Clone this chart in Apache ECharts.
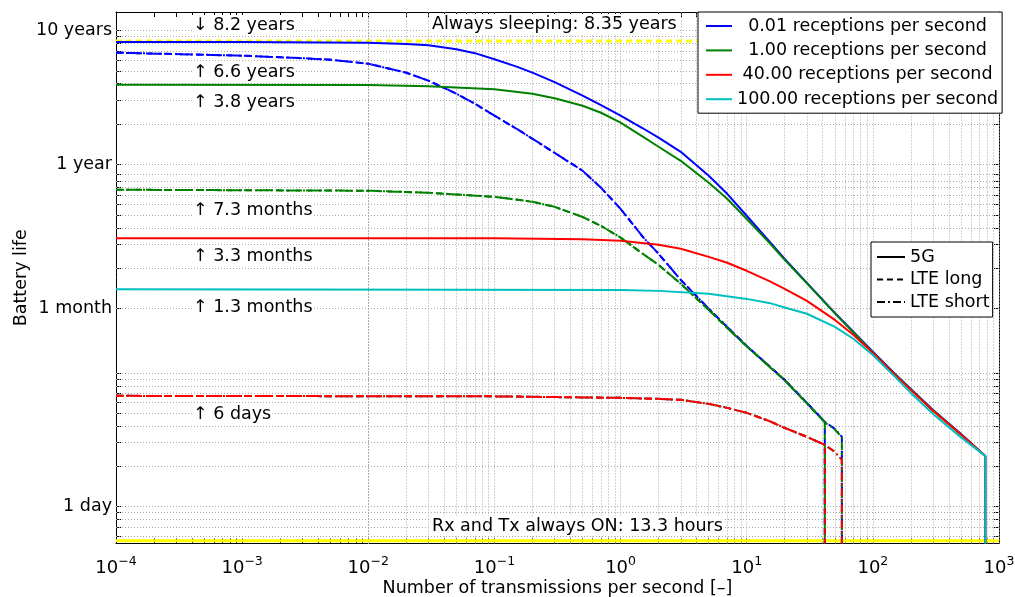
<!DOCTYPE html>
<html><head><meta charset="utf-8">
<script src="https://cdn.jsdelivr.net/npm/echarts@6/dist/echarts.min.js"></script>
<style>html,body{margin:0;padding:0;background:#fff}#c{width:1015px;height:597px}</style>
</head><body><div id="c"></div>
<script>
// ---------------- DATA ----------------
const rxRates = ['0.01', '1.00', '40.00', '100.00'];
const techNames = ['5G', 'LTE long', 'LTE short'];

// axis extents (x: transmissions per second, y: days)
const xMin = 1e-4, xMax = 1e3;
const yMin = 0.528, yMax = 5030;
const daysPerMonth = 30.44, daysPerYear = 365.25;

// tick labels
const xTickValues = [1e-4, 1e-3, 1e-2, 1e-1, 1, 10, 100, 1000];
const yTickValues = [1, 30.44, 365.25, 3652.5];
const yTickLabels = ['1 day', '1 month', '1 year', '10 years'];
// grid positions (in days / months / years)
const yGridDays = [0.6, 0.7, 0.8, 0.9, 1, 2, 3, 4, 5, 6, 7, 8, 9, 10];
const yGridMonths = [1, 2, 3, 4, 5, 6, 7, 8, 9, 10];
const yGridYears = [1, 2, 3, 4, 5, 6, 7, 8, 9, 10];

// reference levels (days)
const alwaysSleepingDays = 3049.8;   // 8.35 years
const alwaysOnDays = 0.554;          // 13.3 hours

// 5G curves (battery life in days)
const g5EndX = 778;
const g5BlueX = [1e-4, 1e-3, 0.01, 0.02, 0.03, 0.05, 0.07, 0.1, 0.15, 0.2, 0.3, 0.5, 0.7, 1, 1.5, 2, 3, 5, 7, 10, 15, 20, 30, 50, 70, 100, 150, 200, 300, 500, 778];
const g5BlueY = [2995, 2995, 2964, 2900, 2835, 2650, 2474, 2230, 1960, 1767, 1500, 1188, 1009, 842, 678, 576, 452, 299, 219, 150, 97.4, 71.4, 47.2, 28.1, 20.3, 14.4, 9.83, 7.59, 5.28, 3.49, 2.39];
const g5GreenX = [1e-4, 0.01, 0.03, 0.1, 0.2, 0.3, 0.5, 0.7, 1, 1.5, 2, 3, 5, 7, 10, 15, 20, 30, 50, 70, 100, 150, 200, 300, 500, 778];
const g5GreenY = [1437, 1429, 1400, 1329, 1230, 1138, 1000, 886, 746, 586, 493, 387, 265, 201, 142, 94.9, 70.2, 46.8, 27.9, 20.1, 14.2, 9.74, 7.52, 5.24, 3.46, 2.39];
const g5RedX = [1e-4, 0.1, 0.5, 1, 2, 3, 5, 7, 10, 15, 20, 30, 50, 70, 100, 150, 200, 300, 500, 778];
const g5RedY = [101.7, 101.6, 100, 97.4, 90.9, 84.9, 73.9, 66.7, 58.1, 48.9, 42.6, 34.6, 24.9, 19.3, 14.1, 9.66, 7.46, 5.19, 3.46, 2.39];
const g5CyanX = [1e-4, 1, 2, 5, 10, 15, 20, 30, 50, 70, 100, 150, 200, 300, 500, 778];
const g5CyanY = [42.2, 41.8, 41.1, 39.1, 35.8, 33.4, 30.9, 27.7, 22.1, 18.0, 13.6, 9.33, 7.08, 4.93, 3.29, 2.39];

// LTE curves (long and short DRX follow the same path; long stops at lteLongEndX, short at lteShortEndX)
const lteLongEndX = 41.6, lteShortEndX = 56.8;
const lteBlueX = [1e-4, 1e-3, 0.003, 0.005, 0.01, 0.02, 0.03, 0.05, 0.07, 0.1, 0.15, 0.2, 0.3, 0.5, 0.7, 1, 1.5, 2, 3, 5, 7, 10, 15, 20, 30, 41.6, 50, 56.8];
const lteBlueY = [2495, 2369, 2269, 2211, 2063, 1767, 1539, 1230, 1035, 842, 672, 566, 444, 326, 243, 169, 104.4, 77.9, 49.7, 30.2, 22.1, 15.9, 11.3, 8.86, 5.96, 4.30, 3.81, 3.32];
const lteGreenX = [1e-4, 0.01, 0.03, 0.1, 0.2, 0.3, 0.5, 0.7, 1, 1.5, 2, 3, 5, 7, 10, 15, 20, 30, 41.6, 50, 56.8];
const lteGreenY = [235, 231, 223, 208, 191, 175, 147, 126, 103, 77.9, 64.4, 46.4, 29.6, 21.7, 15.8, 11.2, 8.79, 5.91, 4.26, 3.77, 3.29];
const lteRedX = [1e-4, 0.1, 1, 2, 3, 5, 7, 10, 15, 20, 30, 41.6, 50, 56.8];
const lteRedY = [6.73, 6.67, 6.50, 6.39, 6.28, 5.86, 5.47, 5.02, 4.37, 3.87, 3.32, 2.89, 2.56, 2.23];
const lteCyanX = [1e-4, 0.1, 1, 2, 3, 5, 7, 10, 15, 20, 30, 41.6, 50, 56.8];
const lteCyanY = [6.73, 6.67, 6.50, 6.39, 6.28, 5.86, 5.47, 5.02, 4.37, 3.87, 3.32, 2.89, 2.56, 2.23];

// annotation texts
const annotationTexts = ['\u2193 8.2 years', '\u2191 6.6 years', '\u2191 3.8 years', '\u2191 7.3 months',
  '\u2191 3.3 months', '\u2191 1.3 months', '\u2191 6 days',
  'Always sleeping: 8.35 years', 'Rx and Tx always ON: 13.3 hours'];

// ---------------- CHART ----------------
const FONT = 'DejaVu Sans';
const FS = 17.5;
const COLORS = ['#0000ff', '#008000', '#ff0000', '#00bfbf'];
const YELLOW = '#ffff00';
const DASH = [6, 4];
const DASHDOT = [8, 3, 2, 3];

function withDrop(xs, ys, endX) {
  const d = [];
  xs.forEach((x, i) => { if (x <= endX + 1e-9) d.push([x, ys[i]]); });
  d.push([endX, yMin]);
  return d;
}

const legendNames = rxRates.map(r => r + ' receptions per second');
const xGrid = [];
for (let e = -4; e <= 2; e++) for (let k = 1; k <= 9; k++) xGrid.push(k * Math.pow(10, e));
xGrid.push(1000);
const yGrid = [].concat(yGridDays, yGridMonths.map(m => m * daysPerMonth), yGridYears.map(y => y * daysPerYear));

const series = [];
// grid lines
series.push({
  type: 'line', data: [], silent: true, z: 1,
  markLine: {
    silent: true, symbol: ['none', 'none'], animation: false, z: 1,
    label: { show: false },
    lineStyle: { color: '#a8a8a8', type: [1, 2], width: 1 },
    emphasis: { disabled: true },
    data: xGrid.map(v => ({ xAxis: v })).concat(yGrid.map(v => ({ yAxis: v })))
  }
});
// reference yellow lines
series.push({ name: 'sleep', type: 'line', symbol: 'none', silent: true, z: 3,
  data: [[xMin, alwaysSleepingDays], [xMax, alwaysSleepingDays]],
  lineStyle: { color: YELLOW, width: 3, type: DASH }, itemStyle: { color: YELLOW } });
series.push({ name: 'on', type: 'line', symbol: 'none', silent: true, z: 3,
  data: [[xMin, alwaysOnDays], [xMax, alwaysOnDays]],
  lineStyle: { color: YELLOW, width: 3 }, itemStyle: { color: YELLOW } });

const lteSets = [[lteCyanX, lteCyanY, 3], [lteBlueX, lteBlueY, 0], [lteGreenX, lteGreenY, 1], [lteRedX, lteRedY, 2]];
lteSets.forEach(([xs, ys, ci]) => {
  series.push({ name: 'LTE long ' + rxRates[ci], type: 'line', symbol: 'none', silent: true, z: 4, clip: true,
    data: withDrop(xs, ys, lteLongEndX),
    lineStyle: { color: COLORS[ci], width: 2, type: DASH }, itemStyle: { color: COLORS[ci] } });
  series.push({ name: 'LTE short ' + rxRates[ci], type: 'line', symbol: 'none', silent: true, z: 4, clip: true,
    data: withDrop(xs, ys, lteShortEndX),
    lineStyle: { color: COLORS[ci], width: 2, type: DASHDOT }, itemStyle: { color: COLORS[ci] } });
});

const g5Sets = [[g5BlueX, g5BlueY], [g5GreenX, g5GreenY], [g5RedX, g5RedY], [g5CyanX, g5CyanY]];
g5Sets.forEach(([xs, ys], ci) => {
  series.push({ name: legendNames[ci], type: 'line', symbol: 'none', silent: true, z: 5, clip: true,
    data: withDrop(xs, ys, g5EndX),
    lineStyle: { color: COLORS[ci], width: 2 }, itemStyle: { color: COLORS[ci] } });
});
// style legend entries (no data)
[['solid'], [DASH], [DASHDOT]].forEach(([t], i) => {
  series.push({ name: techNames[i], type: 'line', symbol: 'none', data: [],
    lineStyle: { color: '#000', width: 2, type: t }, itemStyle: { color: '#000' } });
});

function xLabel(v) {
  const e = Math.round(Math.log10(v));
  return '{b|10}{s|' + (e < 0 ? '\u2212' + (-e) : String(e)) + '}';
}
function yLabel(v) {
  for (let i = 0; i < yTickValues.length; i++) {
    if (Math.abs(Math.log10(v / yTickValues[i])) < 0.005) return yTickLabels[i];
  }
  return '';
}
const tickBase = { show: true, inside: true, length: 5, lineStyle: { color: '#000', width: 1 } };
const lineBase = { show: true, onZero: false, lineStyle: { color: '#000', width: 1 } };

const annotationLayout = [[192, 26], [192, 73], [192, 103], [192, 211], [192, 257], [192, 308], [192, 415], [431, 25], [431, 527]];

const option = {
  animation: false,
  backgroundColor: '#fff',
  grid: { left: 116, right: 16, top: 12, bottom: 53.5, containLabel: false, outerBoundsMode: 'none' },
  xAxis: [
    { type: 'log', logBase: 10, min: xMin, max: xMax, position: 'bottom',
      name: 'Number of transmissions per second [\u2013]', nameLocation: 'middle', nameGap: 36,
      nameMoveOverlap: false,
      nameTextStyle: { fontFamily: FONT, fontSize: FS, color: '#000' },
      axisLine: lineBase, splitLine: { show: false },
      axisTick: Object.assign({ customValues: xGrid }, tickBase),
      axisLabel: { customValues: xTickValues, formatter: xLabel, margin: 12,
        rich: { b: { fontFamily: FONT, fontSize: 18, color: '#000', lineHeight: 26 },
                s: { fontFamily: FONT, fontSize: 12.5, color: '#000', lineHeight: 18, verticalAlign: 'top' } } } },
    { type: 'log', logBase: 10, min: xMin, max: xMax, position: 'top',
      axisLine: lineBase, splitLine: { show: false }, axisLabel: { show: false },
      axisTick: Object.assign({ customValues: xGrid }, tickBase) }
  ],
  yAxis: [
    { type: 'log', logBase: 10, min: yMin, max: yMax, position: 'left',
      name: 'Battery life', nameLocation: 'middle', nameGap: 86,
      nameMoveOverlap: false,
      nameTextStyle: { fontFamily: FONT, fontSize: FS, color: '#000' },
      axisLine: lineBase, splitLine: { show: false },
      axisTick: Object.assign({ customValues: yGrid }, tickBase),
      axisLabel: { customValues: yTickValues, formatter: yLabel, margin: 4,
        fontFamily: FONT, fontSize: FS, color: '#000' } },
    { type: 'log', logBase: 10, min: yMin, max: yMax, position: 'right',
      axisLine: lineBase, splitLine: { show: false }, axisLabel: { show: false },
      axisTick: Object.assign({ customValues: yGrid }, tickBase) }
  ],
  legend: [
    { data: legendNames, orient: 'vertical', left: 698, top: 12, padding: [4, 4, 4, 7],
      itemWidth: 26, itemHeight: 14, itemGap: 4.4, selectedMode: false,
      itemStyle: { opacity: 0 },
      backgroundColor: '#fff', borderColor: '#000', borderWidth: 1, borderRadius: 0,
      formatter: n => { const r = n.split(' ')[0]; return ' '.repeat(6 - r.length) + n; },
      textStyle: { fontFamily: FONT, fontSize: FS, color: '#000', lineHeight: 20 } },
    { data: techNames, orient: 'vertical', left: 871, top: 242, padding: [5, 3, 5, 5],
      itemWidth: 28, itemHeight: 14, itemGap: 2.5, selectedMode: false,
      itemStyle: { opacity: 0 },
      backgroundColor: '#fff', borderColor: '#000', borderWidth: 1, borderRadius: 0,
      textStyle: { fontFamily: FONT, fontSize: FS, color: '#000', lineHeight: 20 } }
  ],
  graphic: annotationTexts.map((t, i) => ({
    type: 'text', left: annotationLayout[i][0], top: annotationLayout[i][1] - 11, z: 2, silent: true,
    style: { text: t, fontFamily: FONT, fontSize: FS, fill: '#000', backgroundColor: '#fff', padding: [1, 1, 1, 1] }
  })),
  series: series
};

const chart = echarts.init(document.getElementById('c'), null, { renderer: 'canvas' });
chart.setOption(option);
</script>
</body></html>
